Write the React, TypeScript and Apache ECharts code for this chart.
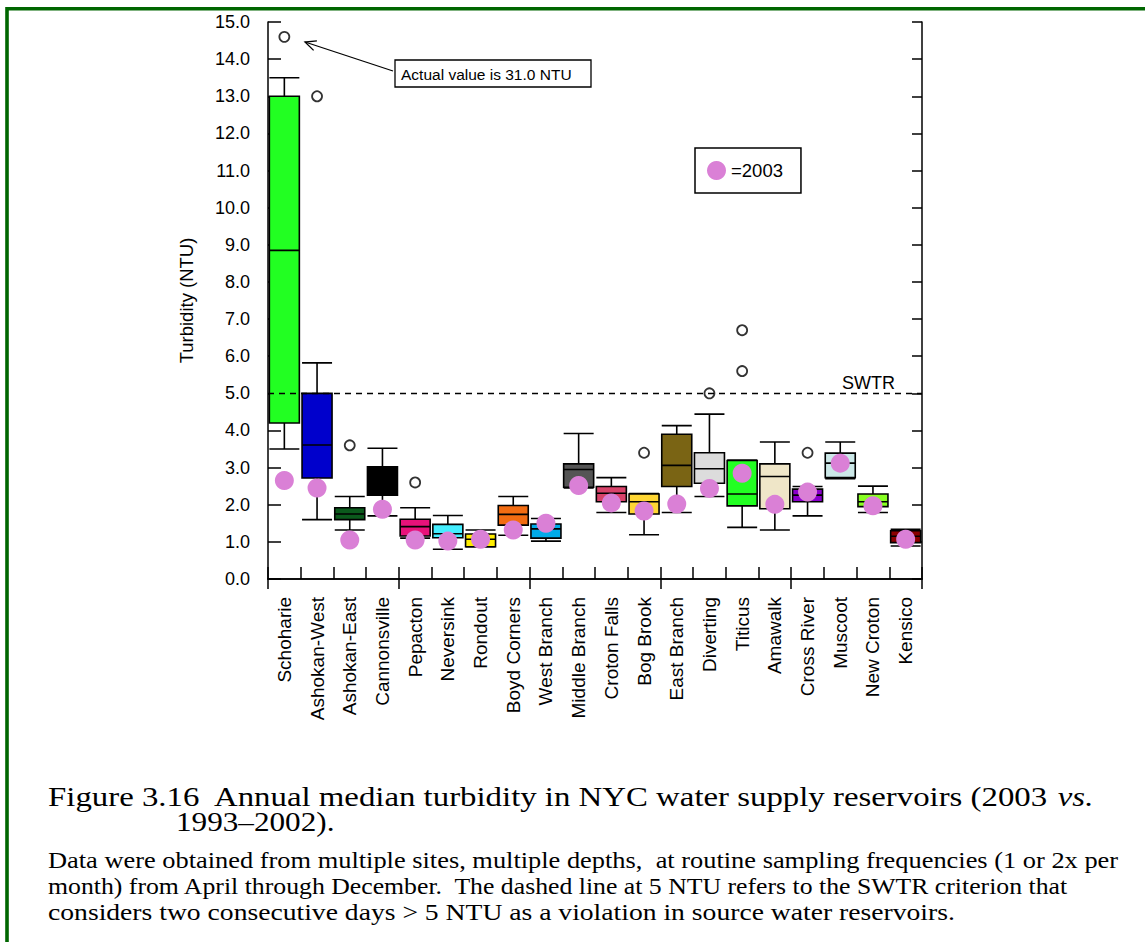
import React, { useEffect, useRef } from "react";
import * as echarts from "echarts";

const categories = [
  "Schoharie", "Ashokan-West", "Ashokan-East", "Cannonsville", "Pepacton",
  "Neversink", "Rondout", "Boyd Corners", "West Branch", "Middle Branch",
  "Croton Falls", "Bog Brook", "East Branch", "Diverting", "Titicus",
  "Amawalk", "Cross River", "Muscoot", "New Croton", "Kensico",
];

// [lower whisker, Q1, median, Q3, upper whisker] for 1993–2002
const boxStats: number[][] = [
  [3.5, 4.2, 8.85, 13.0, 13.5],
  [1.6, 2.72, 3.61, 5.0, 5.82],
  [1.32, 1.6, 1.75, 1.92, 2.22],
  [1.7, 2.26, 2.95, 3.02, 3.52],
  [1.1, 1.16, 1.41, 1.61, 1.92],
  [0.8, 1.11, 1.22, 1.47, 1.71],
  [0.86, 0.87, 1.07, 1.21, 1.32],
  [1.18, 1.45, 1.74, 1.98, 2.22],
  [1.02, 1.1, 1.35, 1.48, 1.63],
  [2.45, 2.47, 2.95, 3.1, 3.92],
  [1.79, 2.08, 2.31, 2.49, 2.73],
  [1.19, 1.75, 2.08, 2.29, 2.3],
  [1.79, 2.49, 3.06, 3.9, 4.13],
  [2.22, 2.58, 2.97, 3.4, 4.44],
  [1.39, 1.97, 2.29, 3.19, 3.2],
  [1.32, 1.89, 2.76, 3.1, 3.69],
  [1.7, 2.08, 2.26, 2.42, 2.49],
  [2.7, 2.73, 3.12, 3.39, 3.69],
  [1.79, 1.95, 2.08, 2.29, 2.5],
  [0.89, 0.98, 1.15, 1.3, 1.34],
];

const boxColors = [
  "#22ff22", "#0000cc", "#0b5a1c", "#000000", "#e8127a",
  "#44eeff", "#ffee00", "#f26c12", "#00aae8", "#555555",
  "#d8436a", "#ffd633", "#7a6414", "#dcdcdc", "#22ff22",
  "#efe6c8", "#8a00cc", "#cce8e8", "#88ff22", "#8b0000",
];

// 2003 annual medians
const values2003 = [
  2.65, 2.45, 1.05, 1.88, 1.05, 1.02, 1.07, 1.32, 1.5, 2.52,
  2.05, 1.83, 2.02, 2.44, 2.85, 2.01, 2.34, 3.12, 1.97, 1.07,
];

// outliers: [category index, value]
const outliers: number[][] = [
  [0, 14.6], [1, 13.0], [2, 3.6], [4, 2.6], [11, 3.4],
  [13, 5.0], [14, 6.7], [14, 5.6], [16, 3.4],
];

const yTicks = { min: 0, max: 15, interval: 1 };
const swtrLimit = 5;

const captionLines = [
  "Figure 3.16  Annual median turbidity in NYC water supply reservoirs (2003 {i|vs.}",
  "1993–2002).",
];
const noteLines = [
  "Data were obtained from multiple sites, multiple depths,  at routine sampling frequencies (1 or 2x per",
  "month) from April through December.  The dashed line at 5 NTU refers to the SWTR criterion that",
  "considers two consecutive days > 5 NTU as a violation in source water reservoirs.",
];

const SANS = "'Liberation Sans', Arial, Helvetica, sans-serif";
const SERIF = "'Liberation Serif', 'Times New Roman', serif";

export default function App() {
  const ref = useRef<HTMLDivElement>(null);
  useEffect(() => {
    if (!ref.current) return;
    const chart = echarts.init(ref.current, null, { renderer: "svg" });
    const axisLine = { show: true, lineStyle: { color: "#000", width: 1.5 } };
    const noteScales = [1.148, 1.12, 1.202];
    const noteYs = [860, 886, 912];
    const option: any = {
      animation: false,
      backgroundColor: "#fff",
      textStyle: { fontFamily: SANS, color: "#000" },
      grid: { left: 268, top: 22, width: 654, height: 557, containLabel: false },
      legend: {
        data: ["=2003"],
        left: 695,
        top: 148,
        padding: [13, 18, 13, 12],
        itemWidth: 19,
        itemHeight: 19,
        icon: "circle",
        borderColor: "#000",
        borderWidth: 1.5,
        textStyle: { fontFamily: SANS, fontSize: 18.5, color: "#000" },
      },
      xAxis: [
        {
          type: "category",
          data: categories,
          position: "bottom",
          axisLine,
          axisTick: { show: true, inside: true, length: 12, lineStyle: { color: "#000", width: 1.5 } },
          axisLabel: { interval: 0, rotate: 90, margin: 18, fontSize: 19, color: "#000", fontFamily: SANS },
          splitLine: { show: false },
        },
        {
          type: "category",
          data: categories,
          position: "top",
          axisLine,
          axisTick: { show: true, inside: true, length: 10, lineStyle: { color: "#000", width: 1.5 } },
          axisLabel: { show: false },
          splitLine: { show: false },
        },
      ],
      yAxis: [
        {
          type: "value",
          min: yTicks.min,
          max: yTicks.max,
          interval: yTicks.interval,
          position: "left",
          name: "Turbidity (NTU)",
          nameLocation: "middle",
          nameRotate: 90,
          nameGap: 72,
          nameTextStyle: { fontSize: 18.5, color: "#000", fontFamily: SANS },
          axisLine,
          axisTick: { show: true, inside: true, length: 13, lineStyle: { color: "#000", width: 1.5 } },
          axisLabel: { margin: 18, fontSize: 18, color: "#000", fontFamily: SANS, formatter: (v: number) => v.toFixed(1) },
          splitLine: { show: false },
        },
        {
          type: "value",
          min: yTicks.min,
          max: yTicks.max,
          interval: yTicks.interval,
          position: "right",
          axisLine,
          axisTick: { show: true, inside: true, length: 10, lineStyle: { color: "#000", width: 1.5 } },
          axisLabel: { show: false },
          splitLine: { show: false },
        },
      ],
      series: [
        {
          name: "1993–2002",
          type: "boxplot",
          boxWidth: [30, 30],
          z: 2,
          itemStyle: { borderColor: "#000", borderWidth: 1.6 },
          data: boxStats.map((s, i) => ({
            value: s,
            itemStyle: { color: boxColors[i], borderColor: "#000", borderWidth: 1.6 },
          })),
          markLine: {
            silent: true,
            symbol: ["none", "none"],
            label: { show: false },
            lineStyle: { color: "#000", type: [6, 5], width: 1.3 },
            data: [{ yAxis: swtrLimit }],
          },
        },
        {
          name: "outliers",
          type: "scatter",
          symbol: "circle",
          symbolSize: 10,
          z: 3,
          itemStyle: { color: "#fff", borderColor: "#000", borderWidth: 1.8 },
          data: outliers,
        },
        {
          name: "=2003",
          type: "scatter",
          symbol: "circle",
          symbolSize: 19,
          z: 4,
          itemStyle: { color: "#da80d6", opacity: 1 },
          data: values2003.map((v, i) => [i, v]),
        },
      ],
      graphic: [
        {
          type: "polyline",
          shape: { points: [[7, 942], [7, 8.8], [1145, 8.8]] },
          style: { stroke: "#006600", lineWidth: 3.6, fill: null },
          silent: true,
        },
        {
          type: "rect",
          shape: { x: 395, y: 60, width: 196, height: 27 },
          style: { fill: "#fff", stroke: "#000", lineWidth: 1.3 },
          z: 10,
        },
        {
          type: "text",
          x: 401,
          y: 74,
          z: 11,
          style: { text: "Actual value is 31.0 NTU", font: `15.5px ${SANS}`, fill: "#000", verticalAlign: "middle" },
        },
        {
          type: "line",
          shape: { x1: 393, y1: 71, x2: 305, y2: 42 },
          style: { stroke: "#000", lineWidth: 1.3 },
          z: 10,
        },
        {
          type: "polyline",
          shape: { points: [[313.6, 50.4], [305, 42], [316.9, 40.8]] },
          style: { stroke: "#000", lineWidth: 1.3, fill: null },
          z: 10,
        },
        {
          type: "text",
          x: 842,
          y: 383,
          style: { text: "SWTR", font: `18px ${SANS}`, fill: "#000", verticalAlign: "middle" },
        },
        {
          type: "text",
          x: 48,
          y: 797,
          scaleX: 1.173,
          style: {
            text: captionLines[0],
            font: `28px ${SERIF}`,
            fill: "#000",
            verticalAlign: "middle",
            rich: { i: { fontStyle: "italic", fontSize: 28, fontFamily: SERIF } },
          },
        },
        {
          type: "text",
          x: 176,
          y: 822,
          scaleX: 1.114,
          style: { text: captionLines[1], font: `28px ${SERIF}`, fill: "#000", verticalAlign: "middle" },
        },
        ...noteLines.map((t, i) => ({
          type: "text",
          x: 48,
          y: noteYs[i],
          scaleX: noteScales[i],
          style: { text: t, font: `23px ${SERIF}`, fill: "#000", verticalAlign: "middle" },
        })),
      ],
    };
    chart.setOption(option);
    return () => chart.dispose();
  }, []);
  return (
    <div
      ref={ref}
      style={{ position: "absolute", left: 0, top: 0, width: 1145, height: 942, background: "#fff" }}
    />
  );
}
